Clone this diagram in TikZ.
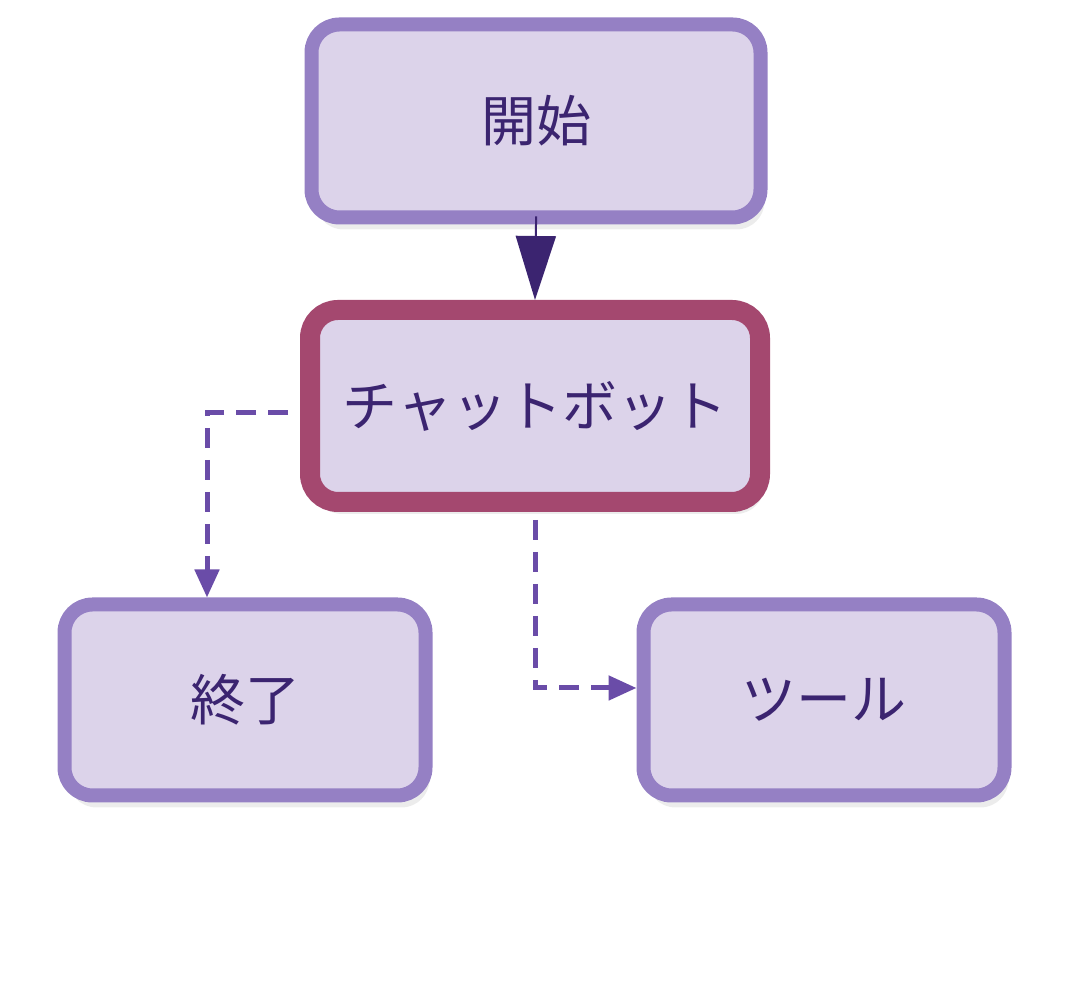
\documentclass[tikz,border=0pt]{standalone}
\usepackage{fontspec}
\newfontfamily\jpfont{Noto Sans CJK JP}
\usetikzlibrary{arrows.meta,shadows}
\definecolor{boxfill}{HTML}{DCD3EA}
\definecolor{boxline}{HTML}{9580C4}
\definecolor{hotline}{HTML}{A4486F}
\definecolor{ink}{HTML}{3B2470}
\definecolor{edge}{HTML}{6A4CA8}
\tikzset{
  box/.style={draw=boxline, line width=14pt, fill=boxfill, rounded corners=28pt,
    minimum width=449pt, minimum height=193pt, text=ink,
    font=\jpfont\fontsize{55}{66}\selectfont,
    drop shadow={shadow xshift=4pt, shadow yshift=-12pt, opacity=0.15}},
  small/.style={box, minimum width=361pt, minimum height=191pt},
  hot/.style={box, draw=hotline, line width=20pt, minimum width=450pt, minimum height=192pt},
  flow/.style={edge, line width=5pt, dash pattern=on 20pt off 12pt}
}
\begin{document}
\begin{tikzpicture}[x=1pt,y=1pt]
\useasboundingbox (0,0) rectangle (1072,992);
%nodes
\node[box] (start) at (536,871) {開始};
\node[hot] (chat) at (535,586) {チャットボット};
\node[small] (finish) at (245,292) {終了};
\node[small] (tool) at (824,292) {ツール};
%edges
\draw[draw=ink, line width=2pt, shorten <=-8pt, -{Triangle[length=64pt,width=40pt]}] (start.south) -- (chat.north);
\draw[flow, -{Triangle[length=28pt,width=24pt]}] ([xshift=-12pt,yshift=-7pt]chat.west) -| (finish.north -| 207,0);
\draw[flow, -{Triangle[length=28pt,width=24pt]}] ([yshift=-8pt]chat.south) |- ([yshift=12pt]tool.west);
\end{tikzpicture}
\end{document}
